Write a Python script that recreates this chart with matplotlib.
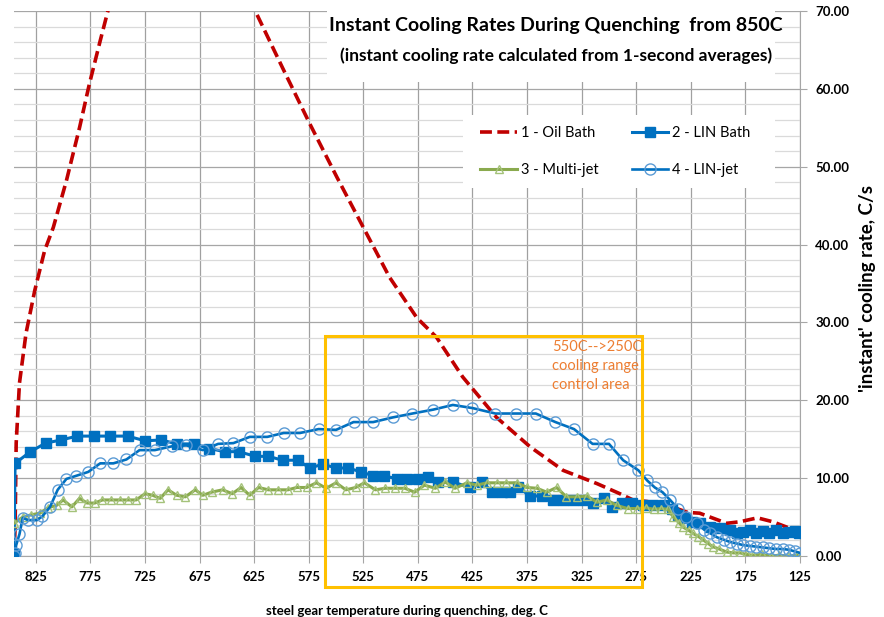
import matplotlib

matplotlib.use("Agg")
import matplotlib.pyplot as plt
from matplotlib.patches import Rectangle
from matplotlib.ticker import MultipleLocator, FuncFormatter

plt.rcParams["font.family"] = ["Lato", "DejaVu Sans"]

# temperature (deg C) and instant cooling rate (C/s)
OIL_T = [845, 844, 843, 840, 834, 826, 817, 809, 797, 785,
         776, 766, 759, 740, 700, 660, 624, 599, 574, 549,
         525, 501, 476, 458, 434, 403, 372, 342, 311, 290,
         278, 265, 245, 238, 228, 217, 192, 180, 164, 150,
         137, 130]
OIL_R = [0.0, 3.7, 14.5, 22.2, 28.6, 34.1, 39.2, 42.2, 48.2, 55.0,
         60.6, 66.2, 70.0, 80.0, 90.0, 82.0, 70.0, 62.7, 55.5, 48.6,
         42.2, 35.8, 30.6, 28.1, 23.0, 17.8, 14.0, 11.0, 9.3, 8.0,
         7.2, 7.0, 6.3, 6.1, 5.6, 5.5, 4.2, 4.4, 4.9, 4.4,
         3.7, 3.3]

LINB_T = [845, 844, 830, 816, 802, 787, 772, 757, 741, 725,
          710, 696, 680, 666, 652, 639, 624, 612, 599, 585,
          574, 562, 550, 539, 527, 516, 506, 494, 485, 475,
          466, 457, 443, 427, 416, 407, 398, 391, 383, 372,
          361, 351, 342, 333, 324, 315, 305, 297, 288, 279,
          269, 260, 250, 242, 237, 230, 224, 217, 207, 198,
          189, 183, 177, 171, 165, 159, 153, 147, 141, 135,
          130, 126]
LINB_R = [0.3, 11.9, 13.4, 14.5, 14.9, 15.4, 15.4, 15.4, 15.4, 14.8,
          14.9, 14.4, 14.4, 13.8, 13.4, 13.4, 12.8, 12.8, 12.3, 12.3,
          11.3, 11.8, 11.3, 11.3, 10.8, 10.3, 10.3, 9.9, 9.9, 9.9,
          10.1, 9.5, 9.5, 8.8, 9.5, 8.2, 8.2, 8.2, 8.8, 7.7,
          7.7, 7.2, 7.2, 7.2, 7.2, 6.8, 7.4, 6.3, 6.8, 6.8,
          6.5, 6.5, 6.5, 6.1, 5.3, 4.9, 4.4, 4.2, 3.7, 3.6,
          3.3, 3.0, 3.1, 3.4, 2.9, 3.2, 3.0, 3.3, 2.9, 3.1,
          3.2, 2.9]

MJ_T = [845, 837, 829, 821, 814, 806, 800, 792, 785, 778,
        771, 764, 756, 748, 741, 733, 725, 718, 711, 704,
        696, 688, 679, 672, 664, 654, 645, 637, 629, 621,
        612, 603, 594, 586, 577, 568, 559, 550, 541, 532,
        524, 514, 505, 496, 487, 478, 469, 459, 450, 441,
        430, 421, 412, 403, 394, 384, 375, 366, 357, 348,
        339, 329, 320, 311, 302, 293, 283, 274, 266, 259,
        252, 246, 241, 236, 232, 227, 223, 218, 214, 209,
        205, 199, 192, 186, 180, 174, 168, 160, 152, 144,
        136, 128, 125]
MJ_R = [4.2, 5.0, 5.3, 5.5, 6.2, 6.5, 7.2, 6.3, 7.4, 6.8,
        6.8, 7.2, 7.2, 7.2, 7.2, 7.2, 8.0, 7.8, 7.4, 8.5,
        7.8, 7.6, 8.5, 7.8, 8.2, 8.5, 8.0, 8.8, 7.8, 8.8,
        8.5, 8.5, 8.5, 8.8, 8.8, 9.4, 8.7, 9.4, 8.5, 8.8,
        9.4, 8.5, 8.7, 8.7, 8.7, 8.2, 9.1, 8.7, 9.5, 8.7,
        9.4, 9.1, 9.4, 9.4, 9.4, 9.4, 8.8, 8.7, 8.2, 8.8,
        7.6, 7.6, 7.7, 6.9, 7.2, 6.5, 6.1, 6.1, 6.2, 6.0,
        6.1, 6.0, 5.0, 4.3, 3.7, 3.3, 2.9, 2.5, 2.1, 1.6,
        1.2, 0.9, 0.5, 0.4, 0.4, 0.2, 0.1, 0.2, 0.0, 0.1,
        0.0, 0.1, 0.0]

LINJ_T = [845, 844, 843, 840, 837, 832, 824, 819, 812, 805,
          797, 788, 777, 766, 754, 742, 730, 716, 700, 687,
          672, 658, 644, 629, 613, 598, 583, 566, 550, 534,
          516, 498, 480, 461, 443, 425, 404, 385, 367, 349,
          332, 315, 300, 287, 273, 265, 258, 251, 244, 237,
          229, 219, 213, 207, 201, 195, 189, 183, 177, 171,
          165, 159, 153, 147, 141, 135, 130, 125]
LINJ_R = [0.0, 0.4, 1.4, 2.8, 4.9, 4.6, 4.6, 5.1, 6.3, 8.5,
          9.9, 10.3, 10.8, 11.9, 11.9, 12.4, 13.6, 13.6, 14.1, 14.2,
          13.6, 14.4, 14.5, 15.3, 15.3, 15.8, 15.8, 16.3, 16.2, 17.2,
          17.2, 17.8, 18.3, 18.8, 19.4, 19.0, 18.3, 18.3, 18.3, 17.2,
          16.3, 14.4, 14.4, 12.3, 11.0, 9.7, 8.8, 8.2, 7.2, 6.1,
          5.0, 4.2, 3.4, 2.9, 2.4, 2.1, 1.8, 1.6, 1.4, 1.3,
          1.2, 1.1, 1.0, 0.9, 0.9, 0.8, 0.6, 0.4]

X_TICKS = [825, 775, 725, 675, 625, 575, 525, 475, 425, 375, 325, 275, 225, 175, 125]

BLUE = "#0070C0"
LIGHT_BLUE = "#5B9BD5"
GREEN = "#8AAA4E"
LIGHT_GREEN = "#A4C27A"
RED = "#C00000"
GOLD = "#FFC000"
ORANGE = "#ED7D31"

fig = plt.figure(figsize=(8.84, 6.17), dpi=100)
ax = fig.add_axes([14 / 884, 1 - 556 / 617, 786 / 884, 545 / 617])

oil, = ax.plot(OIL_T, OIL_R, color=RED, lw=2.6, linestyle=(0, (3.3, 1.5)),
               label="1 - Oil Bath", zorder=3)
linb, = ax.plot(LINB_T, LINB_R, color=BLUE, lw=2.2, marker="s", ms=7,
                mfc=BLUE, mec=BLUE, label="2 - LIN Bath", zorder=3)
mj, = ax.plot(MJ_T, MJ_R, color=GREEN, lw=2.2, marker="^", ms=6,
              mfc="none", mec=LIGHT_GREEN, mew=1.0, label="3 - Multi-jet", zorder=3)
linj, = ax.plot(LINJ_T, LINJ_R, color=BLUE, lw=1.9, marker="o", ms=8,
                mfc="none", mec=LIGHT_BLUE, mew=1.0, label="4 - LIN-jet", zorder=3)

ax.set_xlim(845, 125)
ax.set_ylim(0, 70)
ax.set_xticks(X_TICKS)
ax.yaxis.set_major_locator(MultipleLocator(10))
ax.yaxis.set_minor_locator(MultipleLocator(2))
ax.yaxis.tick_right()
ax.yaxis.set_major_formatter(FuncFormatter(lambda v, p: f"{v:.2f}"))
ax.tick_params(axis="x", length=5, color="#A6A6A6", labelsize=9.5, pad=6)
ax.tick_params(axis="y", which="major", length=5, color="#A6A6A6", labelsize=9.5, pad=6)
ax.tick_params(axis="y", which="minor", length=0)
for lab in ax.get_xticklabels() + ax.get_yticklabels():
    lab.set_fontweight("bold")

ax.set_axisbelow(True)
ax.grid(axis="x", color="#A0A0A0", lw=0.9)
ax.grid(axis="y", which="major", color="#A6A6A6", lw=0.9)
ax.grid(axis="y", which="minor", color="#DADADA", lw=0.9)
for side in ("left", "top"):
    ax.spines[side].set_visible(False)
for side in ("right", "bottom"):
    ax.spines[side].set_color("#A6A6A6")

# white boxes behind title and legend hide the gridlines
for x0, y0, w, h in [(0.398, 0.870, 0.570, 0.135), (0.571, 0.675, 0.397, 0.134)]:
    ax.add_patch(Rectangle((x0, y0), w, h, transform=ax.transAxes,
                           facecolor="white", edgecolor="none", zorder=1, clip_on=False))

ax.add_patch(Rectangle((560, -4.0), 270 - 560, 28.3 + 4.0, facecolor="none",
                       edgecolor=GOLD, lw=2.2, zorder=5, clip_on=False))
ax.text(352, 27.7, "550C-->250C\ncooling range\ncontrol area", color=ORANGE,
        fontsize=10.5, va="top", ha="left", linespacing=1.45, zorder=6)

ax.set_xlabel("steel gear temperature during quenching, deg. C", fontsize=9.5,
              fontweight="bold")
ax.xaxis.set_label_coords(0.5, -0.09)
ax.set_ylabel("'instant' cooling rate, C/s", fontsize=13.5, fontweight="bold")
ax.yaxis.set_label_position("right")
ax.yaxis.set_label_coords(1.0865, 0.49)
ax.yaxis.label.set_rotation(90)
ax.yaxis.label.set_va("center")

fig.text(0.629, 1 - 25 / 617, "Instant Cooling Rates During Quenching  from 850C",
         fontsize=14, fontweight="bold", ha="center", va="center")
fig.text(0.629, 1 - 56 / 617, "(instant cooling rate calculated from 1-second averages)",
         fontsize=12.5, fontweight="bold", ha="center", va="center")

ax.legend(handles=[oil, mj, linb, linj], ncol=2, loc="center",
          bbox_to_anchor=(0.765, 0.742), frameon=False, fontsize=10.5,
          handlelength=2.5, handletextpad=0.25, columnspacing=2.3,
          labelspacing=1.6, numpoints=1)

fig.savefig("out.png", dpi=100)
